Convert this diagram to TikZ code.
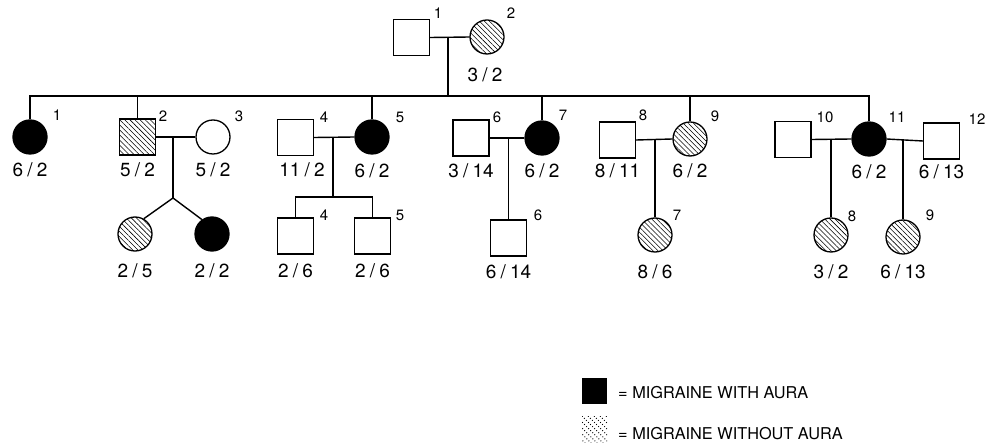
\documentclass[tikz,border=0pt]{standalone}
\usepackage{fontspec}
\setmainfont{TeX Gyre Heros}
\usetikzlibrary{patterns.meta}

% value pair written as "a / b" with a little room round the slash
\newcommand\gv[2]{#1\hspace{0.22em}/\hspace{0.22em}#2}

\tikzset{
  line/.style={line width=1.4pt},
  male/.style={draw, line width=1.3pt, rectangle, minimum width=36pt, minimum height=36pt, inner sep=0pt, fill=white},
  female/.style={draw, line width=1.3pt, circle, minimum size=34pt, inner sep=0pt, fill=white},
  aura/.style={fill=black},
  noaura/.style={pattern={Lines[angle=-45,distance=3.6pt,line width=0.55pt]}},
  idx/.style={font=\fontsize{15}{15}\selectfont, inner sep=0pt},
  val/.style={font=\fontsize{19}{19}\selectfont, inner sep=0pt},
  key/.style={font=\fontsize{16.3}{16.3}\selectfont, inner sep=0pt, anchor=west},
}

\begin{document}
\begin{tikzpicture}[x=1pt, y=-1pt]
\useasboundingbox (0,0) rectangle (990,443);

% ---------- generation I ----------
\node[male]   (f1) at (411.5,37.5) {};
\node[female, noaura] (m2) at (487,37) {};
\node[idx] (f1n) at (438,13) {1};
\node[idx] (m2n) at (511,13) {2};
\node[val] (m2v) at (485,75) {\gv{3}{2}};
\coordinate (cI) at (448,37);
\coordinate (sibL) at (30,96);
\coordinate (sibR) at (869,96);

% ---------- generation II ----------
\node[female, aura]   (a1)  at (30,137) {};
\node[male, noaura]   (a2)  at (137.5,137) {};
\node[female]         (a3)  at (213,137) {};
\node[male]           (a4)  at (295.5,137.5) {};
\node[female, aura]   (a5)  at (372,137) {};
\node[male]           (a6)  at (471,138) {};
\node[female, aura]   (a7)  at (542,138) {};
\node[male]           (a8)  at (617.5,140) {};
\node[female, noaura] (a9)  at (690,139) {};
\node[male]           (a10) at (793,139.5) {};
\node[female, aura]   (a11) at (869,139) {};
\node[male]           (a12) at (941.5,141) {};

\node[idx] (a1n)  at (57,115)  {1};
\node[idx] (a2n)  at (163,116) {2};
\node[idx] (a3n)  at (239,116) {3};
\node[idx] (a4n)  at (324,117) {4};
\node[idx] (a5n)  at (400,117) {5};
\node[idx] (a6n)  at (497,117) {6};
\node[idx] (a7n)  at (563,115) {7};
\node[idx] (a8n)  at (643,115) {8};
\node[idx] (a9n)  at (715,116) {9};
\node[idx] (a10n) at (825,117) {10};
\node[idx] (a11n) at (897,117) {11};
\node[idx] (a12n) at (977,119) {12};

\node[val] (a1v)  at (30,170)    {\gv{6}{2}};
\node[val] (a2v)  at (137.5,170) {\gv{5}{2}};
\node[val] (a3v)  at (213,170)   {\gv{5}{2}};
\node[val] (a4v)  at (302,170)   {\gv{11}{2}};
\node[val] (a5v)  at (372,171)   {\gv{6}{2}};
\node[val] (a6v)  at (471,171)   {\gv{3}{14}};
\node[val] (a7v)  at (542,171)   {\gv{6}{2}};
\node[val] (a8v)  at (617.5,171) {\gv{8}{11}};
\node[val] (a9v)  at (690,171)   {\gv{6}{2}};
\node[val] (a11v) at (869,172)   {\gv{6}{2}};
\node[val] (a12v) at (941.5,172) {\gv{6}{13}};

% ---------- generation III ----------
\node[female, noaura] (b1) at (135,234) {};
\node[female, aura]   (b2) at (212,234) {};
\node[male]           (b4) at (295.5,236) {};
\node[male]           (b5) at (372.5,236) {};
\node[male]           (b6) at (508.5,238) {};
\node[female, noaura] (b7) at (655,235) {};
\node[female, noaura] (b8) at (831,235) {};
\node[female, noaura] (b9) at (903,237) {};

\node[idx] (b4n) at (324,215) {4};
\node[idx] (b5n) at (400,215) {5};
\node[idx] (b6n) at (538,215) {6};
\node[idx] (b7n) at (677,215) {7};
\node[idx] (b8n) at (852,216) {8};
\node[idx] (b9n) at (930,215) {9};

\node[val] (b1v) at (135,271)   {\gv{2}{5}};
\node[val] (b2v) at (212,271)   {\gv{2}{2}};
\node[val] (b4v) at (295.5,271) {\gv{2}{6}};
\node[val] (b5v) at (372.5,271) {\gv{2}{6}};
\node[val] (b6v) at (508.5,272) {\gv{6}{14}};
\node[val] (b7v) at (655,272)   {\gv{8}{6}};
\node[val] (b8v) at (831,272)   {\gv{3}{2}};
\node[val] (b9v) at (903,272)   {\gv{6}{13}};

% ---------- connectors ----------
% couple I and its sibship
\draw[line] (f1.east) -- (m2.west);
\draw[line] (cI) -- (cI |- sibR);
\draw[line] (a1.north) |- (sibR) -- (a11.north);
\foreach \c in {a2,a5,a7,a9}
  \draw[line] (\c.north) -- (\c.north |- sibR);

% couple II-2 x II-3, twins
\coordinate (c23) at (173,137);
\coordinate (tw)  at (173,198);
\draw[line] (a2.east) -- (a3.west);
\draw[line] (c23) -- (tw);
\draw[line] (tw) -- (b1.60);
\draw[line] (tw) -- (b2.125);

% couple II-4 x II-5
\coordinate (c45) at (333,137.5);
\coordinate (s45) at (333,197);
\draw[line] (a4.east) -- (a5.west);
\draw[line] (c45) -- (s45);
\draw[line] (b4.north) |- (s45) -| (b5.north);

% couple II-6 x II-7
\coordinate (c67) at (508.5,138);
\draw[line] (a6.east) -- (a7.west);
\draw[line] (c67) -- (b6.north);

% couple II-8 x II-9
\coordinate (c89) at (655,139);
\draw[line] (a8.east) -- (a9.west);
\draw[line] (c89) -- (b7.north);

% couples II-10 x II-11 and II-11 x II-12
\coordinate (c1011) at (831,139);
\coordinate (c1112) at (903,140);
\draw[line] (a10.east) -- (a11.west);
\draw[line] (a11.east) -- (a12.west);
\draw[line] (c1011) -- (b8.north);
\draw[line] (c1112) -- (b9.north);

% ---------- key ----------
\node[fill=black, minimum width=25pt, minimum height=26pt, inner sep=0pt] (k1) at (594.5,391) {};
\node[minimum width=25pt, minimum height=26pt, inner sep=0pt,
      path picture={
        \foreach \d in {-24,-18,...,30}
          \draw[line width=0.9pt, dotted]
            ([xshift=\d pt]path picture bounding box.north west) -- ++(30pt,-30pt);
      }] (k2) at (594.5,429) {};
\node[key] (k1t) at (618,393) {= MIGRAINE WITH AURA};
\node[key] (k2t) at (618,434) {= MIGRAINE WITHOUT AURA};
\end{tikzpicture}
\end{document}
